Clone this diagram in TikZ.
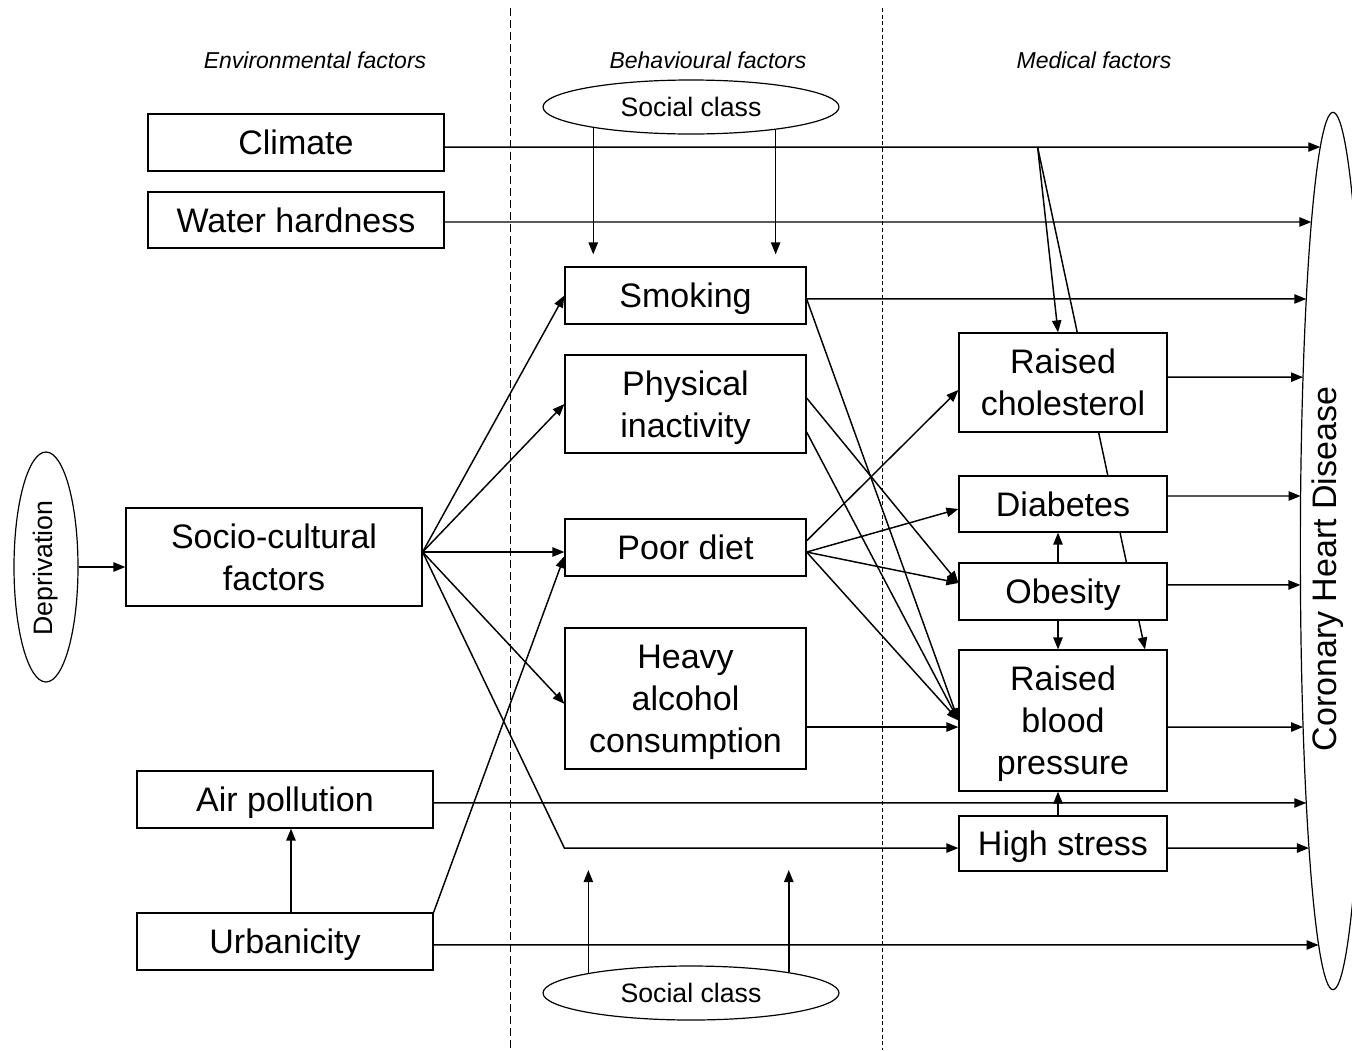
\documentclass[tikz,border=0pt]{standalone}
\usepackage{fontspec}
\setmainfont{Liberation Sans}
\usetikzlibrary{arrows.meta,shapes.geometric,intersections}
\pgfdeclarelayer{bg}
\pgfsetlayers{bg,main}
\newcommand\boxfont{\fontsize{25.5}{31.5}\selectfont}
\newcommand\scfont{\fontsize{20}{24}\selectfont}
\newcommand\hdrfont{\fontsize{17.25}{20}\selectfont\itshape}
\newcommand\tochd[1]{%
  \path[name path=hray] (#1) -- ++(1400,0);
  \draw[arr, name intersections={of=hray and chdp, sort by=hray}] (#1) -- (intersection-1);}
\begin{document}
\begin{tikzpicture}[x=0.75pt,y=-0.75pt,
  box/.style={draw, line width=0.9pt, fill=white, align=center, inner sep=0pt, text depth=0pt, font=\boxfont},
  ell/.style={draw, ellipse, inner sep=0pt, line width=0.9pt},
  arr/.style={-{Triangle[length=9pt,width=7pt]}, line width=1.1pt},
  hdr/.style={font=\hdrfont, inner sep=0pt},
  divA/.style={line width=0.75pt, dash pattern=on 6pt off 3pt},
  divB/.style={line width=0.75pt, dash pattern=on 3pt off 2pt}]
\useasboundingbox (0,0) rectangle (1352,1050);
\clip (0,0) rectangle (1352,1050);

% dividers
\begin{pgfonlayer}{bg}
\draw[divA] (510,8) -- (510,1050);
\draw[divB] (882,8) -- (882,1050);
\end{pgfonlayer}

% headers
\node[hdr] (henv) at (315,60) {Environmental factors};
\node[hdr] (hbeh) at (708,60) {Behavioural factors};
\node[hdr] (hmed) at (1094,60) {Medical factors};

% environmental
\node[box, minimum width=222pt, minimum height=42.75pt] (clim) at (296,142.5) {Climate};
\node[box, minimum width=222pt, minimum height=42pt] (water) at (296,220) {Water hardness};
\node[box, minimum width=222pt, minimum height=73.5pt] (socio) at (274,557) {Socio-cultural\\factors};
\node[box, minimum width=222pt, minimum height=42.75pt] (air) at (285,799.5) {Air pollution};
\node[box, minimum width=222pt, minimum height=42.75pt] (urban) at (285,941.5) {Urbanicity};
\node[ell, minimum width=48pt, minimum height=172.5pt] (dep) at (46,567) {};
\node[rotate=90, font=\scfont, inner sep=0pt] (deptxt) at (46,568) {Deprivation};

% behavioural
\node[box, minimum width=180.75pt, minimum height=42.75pt] (smok) at (685.5,295.5) {Smoking};
\node[box, minimum width=180.75pt, minimum height=73.5pt] (phys) at (685.5,404) {Physical\\inactivity};
\node[box, minimum width=180.75pt, minimum height=42.75pt] (diet) at (685.5,547.5) {Poor diet};
\node[box, minimum width=180.75pt, minimum height=105.75pt] (alc) at (685.5,698.5) {Heavy\\alcohol\\consumption};
\node[ell, minimum width=222pt, minimum height=40.5pt, font=\scfont] (sct) at (691,107) {Social class};
\node[ell, minimum width=222pt, minimum height=40.5pt, font=\scfont] (scb) at (691,993) {Social class};

% medical
\node[box, minimum width=156pt, minimum height=74.25pt] (chol) at (1063,382.5) {Raised\\cholesterol};
\node[box, minimum width=156pt, minimum height=42pt] (diab) at (1063,504) {Diabetes};
\node[box, minimum width=156pt, minimum height=42.75pt] (obes) at (1063,591.5) {Obesity};
\node[box, minimum width=156pt, minimum height=105.75pt] (bp) at (1063,720.5) {Raised\\blood\\pressure};
\node[box, minimum width=156pt, minimum height=41.25pt] (stress) at (1063,843.5) {High stress};

% outcome
\node[ell, name path=chdp, minimum width=49pt, minimum height=658pt] (chd) at (1333,551) {};
\node[rotate=90, font=\boxfont, inner sep=0pt] (chdtxt) at (1328,569) {Coronary Heart Disease};

% start points
\coordinate (climo) at ([yshift=-3.4pt]clim.east);
\coordinate (watero) at ([yshift=-1.5pt]water.east);
\coordinate (smoko) at ([yshift=-2.6pt]smok.east);
\coordinate (cholo) at ([yshift=4pt]chol.east);
\coordinate (diabo) at ([yshift=6pt]diab.east);
\coordinate (obeso) at ([yshift=4.9pt]obes.east);
\coordinate (bpo) at ([yshift=-4.9pt]bp.east);
\coordinate (airo) at ([yshift=-2.6pt]air.east);
\coordinate (stresso) at ([yshift=-3.4pt]stress.east);
\coordinate (urbano) at ([yshift=-2.6pt]urban.east);

% arrows into CHD
\tochd{climo}
\tochd{watero}
\tochd{smoko}
\tochd{cholo}
\tochd{diabo}
\tochd{obeso}
\tochd{bpo}
\tochd{airo}
\tochd{stresso}
\tochd{urbano}

% climate branch
\path (climo) ++(593,0) coordinate (cb);
\draw[arr] (cb) -- ([xshift=-3.75pt]chol.north);
\begin{pgfonlayer}{bg}
\draw[arr] (cb) -- ([xshift=61.5pt]bp.north);
\end{pgfonlayer}

% social class
\coordinate (sctend) at ([yshift=9pt]smok.north);
\draw[arr] (sct.192.5) -- (sct.192.5 |- sctend);
\draw[arr] (sct.-15.3) -- (sct.-15.3 |- sctend);
\coordinate (hs) at ([yshift=-3.4pt]stress.west);
\coordinate (scbend) at ([yshift=-16.5pt]hs);
\draw[arr] (scb.169.5) -- (scb.169.5 |- scbend);
\draw[arr] (scb.12.5) -- (scb.12.5 |- scbend);

% deprivation & socio-cultural
\draw[arr] (dep.east) -- (dep.east -| socio.west);
\coordinate (sc) at ([yshift=3.75pt]socio.east);
\draw[arr] (sc) -- (smok.west);
\draw[arr] (sc) -- (phys.west);
\draw[arr] (sc) -- (sc -| diet.west);
\draw[arr] (sc) -- ([yshift=-4pt]alc.west);
\draw[arr] (sc) -- (hs -| diet.west) -- (hs);

% urbanicity
\draw[arr] (urban.north east) -- ([yshift=-6.4pt]diet.west);
\draw[arr] ([xshift=4.5pt]urban.north) -- ([xshift=4.5pt]air.south);

% behavioural -> medical
\coordinate (obin) at ([yshift=6.4pt]obes.west);
\draw[arr] (smoko) -- (bp.west);
\coordinate (p1) at ([yshift=4.5pt]phys.east);
\coordinate (p2) at ([yshift=-21pt]phys.east);
\draw[arr] (p1) -- (obin);
\draw[arr] (p2) -- (bp.west);
\coordinate (d1) at ([yshift=5pt]diet.east);
\coordinate (d2) at ([yshift=-3.4pt]diet.east);
\draw[arr] (d1) -- ([yshift=-5.6pt]chol.west);
\draw[arr] (d2) -- ([yshift=-3.75pt]diab.west);
\draw[arr] (d2) -- (obin);
\draw[arr] (d2) -- (bp.west);
\coordinate (a1) at ([yshift=-21.4pt]alc.east);
\draw[arr] (a1) -- (a1 -| bp.west);

% within medical
\draw[arr] ([xshift=-3.75pt]obes.north) -- ([xshift=-3.75pt]diab.south);
\draw[arr] ([xshift=-3.75pt]obes.south) -- ([xshift=-3.75pt]bp.north);
\draw[arr] ([xshift=-3.75pt]stress.north) -- ([xshift=-3.75pt]bp.south);
\end{tikzpicture}
\end{document}
